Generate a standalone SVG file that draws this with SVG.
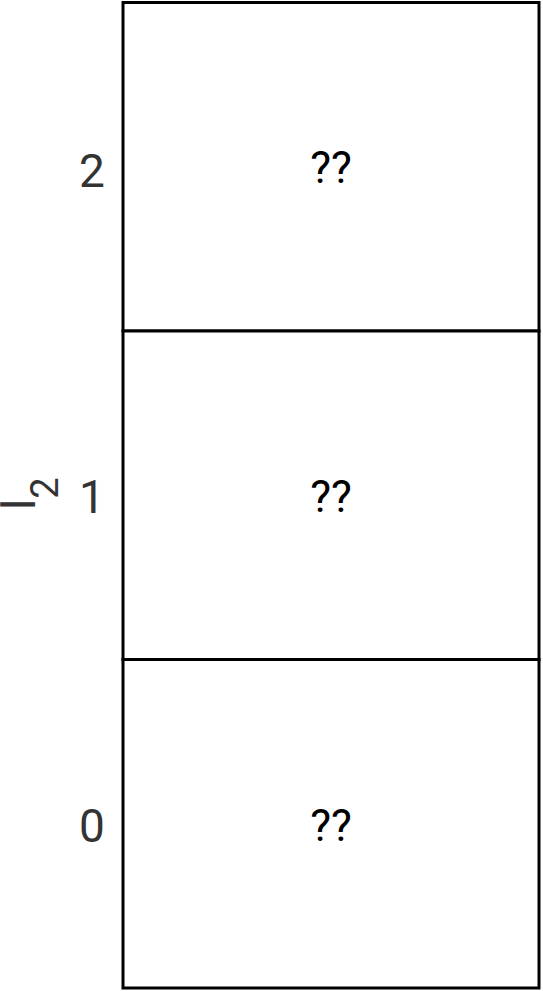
<svg xmlns="http://www.w3.org/2000/svg" width="543" height="991" viewBox="0 0 543 991">
<style>
.cell{fill:#fff;stroke:#000;stroke-width:3}
.q{font-family:Roboto,"Liberation Sans",sans-serif;font-size:44px;fill:#000;text-anchor:middle}
.lab{font-family:Roboto,"Liberation Sans",sans-serif;font-size:46px;fill:#333;text-anchor:middle}
</style>
<rect width="543" height="991" fill="#fff"/>
<g id="axis-label">
<text transform="translate(35,510) rotate(-90)" font-family="Roboto,'Liberation Sans',sans-serif" font-size="46" fill="#333">l<tspan font-size="38" dy="23">2</tspan></text>
</g>
<g id="cell-2">
<rect class="cell" x="123" y="2.5" width="416" height="328.5"/>
<text class="q" x="331" y="183">??</text>
<text class="lab" x="92" y="187">2</text>
</g>
<g id="cell-1">
<rect class="cell" x="123" y="331" width="416" height="328.5"/>
<text class="q" x="331" y="512">??</text>
<text class="lab" x="92" y="513">1</text>
</g>
<g id="cell-0">
<rect class="cell" x="123" y="659.5" width="416" height="328.5"/>
<text class="q" x="331" y="841">??</text>
<text class="lab" x="92" y="842">0</text>
</g>
</svg>
